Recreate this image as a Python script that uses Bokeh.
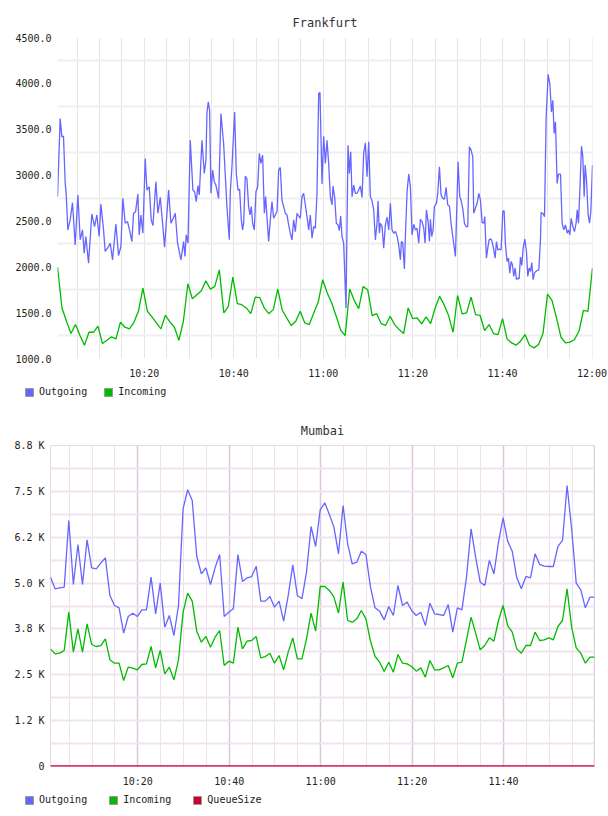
from bokeh.plotting import figure
from bokeh.models import (Range1d, FixedTicker, Legend, LegendItem,
                          PrintfTickFormatter)
from bokeh.layouts import column, row
from bokeh.embed import file_html
from bokeh.resources import INLINE
import numpy as np

MONO = "DejaVu Sans Mono"

# ---------------- data ----------------
# x values are minutes after 10:00
time_ticks = [20, 40, 60, 80, 100, 120]
time_labels = ["10:20", "10:40", "11:00", "11:20", "11:40", "12:00"]
time_minor = [5, 10, 15, 25, 30, 35, 45, 50, 55, 65, 70, 75, 85, 90, 95, 105, 110, 115]

# Frankfurt - Outgoing (irregular samples)
fra_out_t = [0.63, 1.23, 1.60, 1.97, 2.35, 2.57, 2.94, 3.46, 3.98, 4.58, 5.18, 5.70, 6.22, 6.59, 6.96,
             7.56, 8.30, 8.90, 9.42, 9.94, 10.32, 10.91, 11.28, 11.81, 12.40, 12.92, 13.67, 14.26,
             14.79, 15.23, 15.75, 16.27, 16.87, 17.24, 17.62, 18.06, 18.58, 18.88, 19.25, 19.70,
             20.22, 20.60, 21.12, 21.56, 21.94, 22.61, 23.05, 23.58, 24.10, 24.54, 25.44, 25.96,
             26.41, 26.93, 27.45, 28.19, 28.79, 29.09, 29.38, 29.76, 30.28, 30.87, 31.25, 31.62,
             31.99, 32.29, 32.89, 33.41, 33.78, 34.00, 34.30, 34.60, 34.90, 35.27, 35.64, 36.01,
             36.61, 37.13, 37.73, 38.47, 39.00, 39.22,
             39.59, 40.19, 40.56, 40.93, 41.30, 41.68, 41.97, 42.20, 42.57, 42.94, 43.31, 43.61,
             43.91, 44.21, 44.58, 44.95, 45.33, 45.70, 46.07, 46.44, 46.82, 47.11, 47.41, 47.78,
             48.16, 48.53, 48.90, 49.27, 49.65, 50.02, 50.39, 50.76, 51.14, 51.51, 51.88, 52.25,
             52.63, 53.00, 53.37, 53.74, 54.12, 54.49, 54.86, 55.23, 55.60, 55.98, 56.35, 56.72,
             57.09, 57.47, 57.84, 58.21, 58.58, 58.96, 59.25, 59.70, 60.07, 60.45, 60.82, 61.19,
             61.56, 61.94, 62.16, 62.53, 62.90, 63.28, 63.57, 63.87, 64.17, 64.54, 65.06, 65.51,
             65.81, 66.11, 66.41, 66.78, 67.15, 67.52, 67.90, 68.27, 68.64, 69.01, 69.38, 69.76,
             70.13, 70.50, 70.87, 71.25, 71.62, 71.99, 72.22, 72.51, 72.74, 73.11, 73.48, 73.85,
             74.23, 74.60, 74.97, 75.34, 75.72, 76.09, 76.46, 76.83, 77.21, 77.43, 77.73, 78.10,
             78.32, 78.70, 79.07, 79.44, 79.81, 80.19,
             80.56, 80.93, 81.30, 81.67, 82.05, 82.42, 82.72, 83.02, 83.39, 83.69, 83.91, 84.21,
             84.51, 84.80, 85.25, 85.55, 85.92, 86.29, 86.67, 87.04, 87.41, 87.78, 88.16, 88.53,
             88.90, 89.20, 89.50, 90.09, 90.46, 90.76, 91.13, 91.51, 91.88, 92.25, 92.62, 93.00,
             93.37, 93.59, 93.97, 94.34, 94.71, 95.08, 95.46, 95.83, 96.05, 96.42, 96.72, 97.02,
             97.39, 97.69, 98.06, 98.36, 98.66, 98.96, 99.33, 99.70, 100.07, 100.37, 100.67,
             101.04, 101.34, 101.64, 101.94, 102.23, 102.53, 102.83, 103.13, 103.42, 103.72,
             104.02, 104.32, 104.62, 104.99, 105.36, 105.66, 105.96, 106.26, 106.55, 106.85,
             107.15, 107.45, 107.75, 108.12, 108.49, 108.64, 109.01, 109.39, 109.76, 110.20,
             110.58, 110.95, 111.25, 111.54, 111.84, 112.21, 112.51, 112.96, 113.33, 113.70,
             114.08, 114.45, 114.75, 115.05, 115.34, 115.72, 116.09, 116.46, 116.69, 116.98,
             117.35, 117.65, 117.95, 118.25, 118.47, 118.77, 119.14, 119.44, 119.74, 120.11]
fra_out_v = [2765, 3616, 3417, 3424, 2909, 2801, 2402, 2511, 2699, 2239, 2783, 2294, 2402, 2149, 2330,
             2040, 2576, 2438, 2565, 2330, 2685, 2402, 2167, 2203, 2257, 2076, 2467, 2123,
             2221, 2746, 2475, 2493, 2366, 2275, 2583, 2598, 2794, 2348, 2565, 2366,
             3181, 2837, 2873, 2511, 2449, 2928, 2583, 2757, 2475, 2214, 2837, 2475,
             2522, 2583, 2257, 2076, 2275, 2112, 2348, 2257, 3380, 2837, 2819, 2710,
             2884, 2783, 3380, 3018, 3163, 3670, 3797, 3707, 2801, 3054, 2928, 2891,
             2746, 3670, 3344, 2656, 2294, 2819,
             3091, 3688, 3018, 2837, 2844, 2511, 2402, 2475, 2989, 2953, 2656, 2565,
             2656, 2475, 2402, 2819, 2873, 3236, 3127, 3217, 2583, 2765, 2547, 2275,
             2511, 2710, 2529, 2565, 2602, 3054, 3083, 2728, 2656, 2583, 2565, 2457,
             2366, 2294, 2511, 2384, 2583, 2554, 2529, 2765, 2801, 2674, 2547, 2402,
             2565, 2312, 2438, 2420, 2801, 3888, 3899, 2902, 3424, 3127, 3380, 3127,
             2765, 2674, 2880, 2757, 2475, 2457, 2395, 2554, 2330, 2257, 1551, 3326,
             3018, 3254, 2765, 2891, 2801, 2801, 2837, 2880, 2757, 3236, 3351, 2982,
             3362, 2765, 2721, 2620, 2294, 2475, 2721, 2366, 2475, 2438, 2203, 2457,
             2540, 2402, 2692, 2402, 2366, 2384, 2337, 2239, 2076, 2275, 2265, 1975,
             2330, 2819, 3011, 2873, 2348, 2464,
             2402, 2420, 2257, 2518, 2493, 2420, 2257, 2620, 2493, 2275, 2518, 2330,
             2402, 2656, 2692, 2801, 3091, 2783, 2746, 2736, 2866, 2674, 2663, 2475,
             2330, 2221, 2112, 3145, 2765, 2728, 2638, 2475, 2438, 2438, 3308, 3272,
             3199, 2583, 2638, 2692, 2801, 2728, 2482, 2475, 2547, 2094, 2203, 2294,
             2304, 2275, 2185, 2094, 2275, 2185, 2192, 2185, 2602, 2612, 2239,
             2058, 2094, 1931, 2058, 2022, 1895, 1986, 1859, 1877, 1866,
             2105, 2015, 2203, 2301, 2167, 1895, 1986, 1949, 2047, 1859,
             1931, 1949, 1960, 1967, 2294, 2591, 2583, 2547, 3634, 4098,
             3996, 3688, 3815, 3453, 3580, 2909, 3011, 3011, 2475, 2402,
             2457, 2366, 2402, 2348, 2529, 2438, 2384, 2482, 2620, 2475,
             2909, 3315, 3199, 2765, 3109, 2946, 2565, 2475, 2602, 3109]

# Frankfurt - Incoming (one sample per minute)
fra_in_span = [0.63, 120.1]
fra_in_v = [1996, 1551, 1406, 1272, 1370, 1250, 1145, 1286, 1286, 1352,
            1163, 1199, 1236, 1214, 1395, 1341, 1323, 1395, 1515, 1768,
            1515, 1453, 1388, 1323, 1471, 1399, 1341, 1199, 1406, 1815,
            1652, 1696, 1739, 1848, 1757, 1786, 1967, 1497, 1569,
            1888, 1598, 1587, 1551, 1489, 1670, 1663, 1551, 1489, 1533,
            1757, 1525, 1442, 1359, 1406, 1515, 1388, 1370, 1497, 1616,
            1859, 1714, 1605, 1460, 1308, 1250, 1757, 1634, 1544, 1786,
            1750, 1468, 1489, 1381, 1362, 1460, 1370, 1315, 1272, 1551,
            1435,
            1442, 1377, 1453, 1381, 1551, 1678, 1587, 1468, 1286, 1689,
            1486, 1497, 1670, 1478, 1471, 1305, 1370, 1272, 1261, 1435,
            1214, 1170, 1145, 1189, 1261, 1145, 1116, 1152, 1272, 1703,
            1634, 1442, 1232, 1170, 1178, 1207, 1297, 1525, 1515, 1986]

fra_y_ticks = [1000, 1500, 2000, 2500, 3000, 3500, 4000, 4500]
fra_y_grid = [1250, 1750, 2250, 2750, 3250, 3750, 4250]

# Mumbai (one sample per minute)
mum_span = [0.9, 119.9]
mum_out = [5161, 4843, 4870, 4888, 6706, 4961, 6052, 4961, 6179, 5416,
           5388, 5543, 5688, 4661, 4389, 4325, 3635, 4089, 4180, 4089,
           4271, 4271, 5161, 4162, 4998, 3798, 4116, 3571, 4389, 7024,
           7542, 7251, 5725, 5252, 5416, 4961, 5416, 5779, 4089, 4207,
           4298, 5779, 5043, 5143, 5179, 5461, 4507, 4507, 4634, 4343,
           4507, 3962, 4661, 5497, 4661, 4570, 5298, 6542, 5997, 6997,
           7188, 6870, 6525, 5798, 7115, 6070, 5525, 5570, 5870, 5779,
           4889, 4326, 4234, 3998, 4361, 4116, 4934, 4389, 4480, 4252,
           4116, 4207, 3843, 4452, 4162, 4143, 4116, 4416, 3662, 4325,
           4270, 5161, 6479, 5707, 5025, 4934, 5616, 5252, 6116, 6779,
           6143, 5870, 5143, 4843, 5180, 5143, 5798, 5507, 5461, 5452,
           5452, 5998, 6161, 7661, 6479, 4998, 4816, 4326, 4616, 4616]
mum_in = [3207, 3071, 3089, 3162, 4207, 3117, 3753, 3117, 3889, 3326,
          3271, 3298, 3480, 2908, 2817, 2817, 2344, 2708, 2680, 2635,
          2780, 2798, 3271, 2689, 3162, 2526, 2708, 2362, 2908, 4200,
          4725, 4507, 3689, 3389, 3543, 3253, 3525, 3707, 2753, 2871,
          2817, 3798, 3207, 3416, 3435, 3543, 2962, 2998, 3089, 2817,
          3026, 2635, 3117, 3507, 2935, 2935, 3480, 4180, 3689, 4907,
          4907, 4798, 4616, 4180, 5025, 3980, 3934, 4025, 4252, 4025,
          3416, 2998, 2844, 2589, 2844, 2571, 3053, 2817, 2798, 2726,
          2599, 2689, 2435, 2889, 2635, 2635, 2689, 2753, 2417, 2817,
          2844, 3453, 4071, 3634, 3180, 3298, 3507, 3416, 3980, 4389,
          3843, 3662, 3207, 3089, 3298, 3298, 3662, 3435, 3453, 3507,
          3453, 3816, 3980, 4843, 3798, 3235, 3089, 2817, 2980, 2980]
mum_queue = [0] * 120

mum_y_ticks = [0, 1250, 2500, 3750, 5000, 6250, 7500, 8750]
mum_y_labels = ["0", "1.2 K", "2.5 K", "3.8 K", "5.0 K", "6.2 K", "7.5 K", "8.8 K"]
mum_y_minor = [625, 1875, 3125, 4375, 5625, 6875, 8125]

C_OUT = "#6666ff"
C_IN = "#00bb00"
C_Q = "#cc0033"

CHART_H = 384
LEG_H = 24
NAN = [float("nan")]


def style_common(p, title_offset):
    p.title.align = "center"
    p.title.offset = title_offset
    p.title.standoff = 15
    p.title.text_font = MONO
    p.title.text_font_size = "12px"
    p.title.text_font_style = "normal"
    p.title.text_color = "#333333"
    for ax in (p.xaxis, p.yaxis):
        ax.axis_line_color = None
        ax.major_tick_line_color = None
        ax.minor_tick_line_color = None
        ax.major_tick_out = 0
        ax.minor_tick_out = 0
        ax.major_label_text_font = MONO
        ax.major_label_text_font_size = "10px"
        ax.major_label_text_color = "#222222"
    p.xaxis.major_label_standoff = 9
    p.yaxis.major_label_standoff = 6
    p.xaxis.ticker = FixedTicker(ticks=time_ticks, minor_ticks=time_minor)
    p.xaxis.major_label_overrides = dict(zip(time_ticks, time_labels))


def legend_strip(items, spacing):
    lp = figure(width=608, height=LEG_H, output_backend="svg", toolbar_location=None,
                x_range=Range1d(0, 608), y_range=Range1d(0, LEG_H),
                x_axis_type=None, y_axis_type=None,
                min_border_left=0, min_border_right=0,
                min_border_top=0, min_border_bottom=0)
    lp.outline_line_color = None
    lp.xgrid.visible = False
    lp.ygrid.visible = False
    leg_items = []
    for name, color in items:
        r = lp.quad(left=NAN, right=NAN, top=NAN, bottom=NAN, fill_color=color,
                    line_color="#999999", line_width=1)
        leg_items.append(LegendItem(label=name, renderers=[r]))
    leg = Legend(items=leg_items, location=(24, 11), orientation="horizontal",
                 glyph_width=10, glyph_height=10, label_height=10, label_width=10,
                 label_standoff=5, spacing=spacing, padding=0, margin=0,
                 background_fill_alpha=0, border_line_color=None,
                 label_text_font=MONO, label_text_font_size="10px",
                 label_text_color="#222222")
    lp.add_layout(leg, "center")
    return lp


# ---------------- Frankfurt ----------------
p1 = figure(width=608, height=CHART_H, output_backend="svg", toolbar_location=None,
            title="Frankfurt",
            x_range=Range1d(min(fra_out_t), max(fra_out_t)), y_range=Range1d(1000, 4500),
            min_border_left=57, min_border_right=16, min_border_top=37,
            min_border_bottom=CHART_H - 37 - 321)
p1.outline_line_color = None
style_common(p1, -20)
p1.yaxis.ticker = FixedTicker(ticks=fra_y_ticks)
p1.yaxis.formatter = PrintfTickFormatter(format="%.1f")
p1.xgrid.grid_line_color = "#e4e4e4"
p1.xgrid.minor_grid_line_color = "#e4e4e4"
p1.ygrid.ticker = FixedTicker(ticks=fra_y_grid)
p1.ygrid.grid_line_color = "#efefef"
p1.ygrid.grid_line_width = 2

fra_in_t = np.linspace(fra_in_span[0], fra_in_span[1], len(fra_in_v))
p1.line(fra_out_t, fra_out_v, line_color=C_OUT, line_width=1.3)
p1.line(fra_in_t, fra_in_v, line_color=C_IN, line_width=1.3)
leg1 = legend_strip([("Outgoing", C_OUT), ("Incoming", C_IN)], 16)

# ---------------- Mumbai ----------------
p2 = figure(width=608, height=CHART_H, output_backend="svg", toolbar_location=None,
            title="Mumbai",
            x_range=Range1d(mum_span[0], mum_span[1]), y_range=Range1d(0, 8750),
            min_border_left=50, min_border_right=14, min_border_top=37,
            min_border_bottom=CHART_H - 37 - 321)
p2.outline_line_color = "#e6d6e6"
style_common(p2, -19)
p2.yaxis.ticker = FixedTicker(ticks=mum_y_ticks, minor_ticks=mum_y_minor)
p2.yaxis.major_label_overrides = dict(zip(mum_y_ticks, mum_y_labels))
p2.xgrid.grid_line_color = "#dcc6dc"
p2.xgrid.grid_line_width = 1.5
p2.xgrid.minor_grid_line_color = "#ede2ed"
p2.ygrid.grid_line_color = "#f0e4f0"
p2.ygrid.grid_line_width = 2
p2.ygrid.minor_grid_line_color = "#f0e4f0"
p2.ygrid.minor_grid_line_width = 2

mum_t = np.linspace(mum_span[0], mum_span[1], len(mum_out))
p2.line(mum_t, mum_out, line_color=C_OUT, line_width=1.3)
p2.line(mum_t, mum_in, line_color=C_IN, line_width=1.3)
p2.line(mum_t, mum_queue, line_color=C_Q, line_width=2.5)
leg2 = legend_strip([("Outgoing", C_OUT), ("Incoming", C_IN), ("QueueSize", C_Q)], 21)

layout = column(row(p1), row(leg1), row(p2), row(leg2), spacing=0)
open("out.html", "w").write(file_html(layout, INLINE))
